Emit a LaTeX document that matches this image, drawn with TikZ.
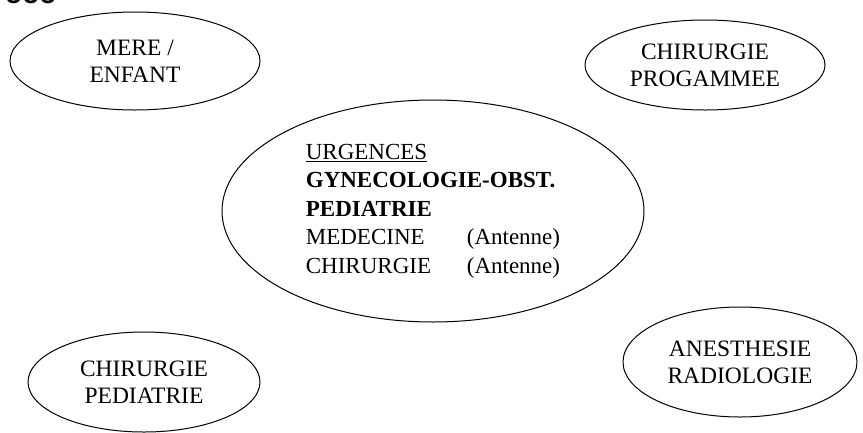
\documentclass[tikz,border=0pt]{standalone}
\usepackage{fontspec}
\setmainfont{Liberation Serif}
\setsansfont{Liberation Sans}
\usetikzlibrary{shapes.geometric, positioning}

\begin{document}
\begin{tikzpicture}[
    x=1pt, y=-1pt,
    service/.style={draw, ellipse, line width=1pt, inner sep=0pt, align=center,
                    font=\fontsize{23.5}{27}\selectfont},
    pole/.style={draw, ellipse, line width=1pt, inner sep=0pt, align=left,
                 font=\fontsize{23}{28.5}\selectfont}
]

% Page frame
\useasboundingbox (0,0) rectangle (863,432);

% Cut-off heading at the top edge
\node[font=\sffamily\bfseries\fontsize{28}{30}\selectfont, anchor=base west, inner sep=0pt]
    (crop) at (5,3) {ooo};

% Central pole
\node[pole, minimum width=422pt, minimum height=222pt] (centre) at (433,211)
    {\underline{URGENCES}\\
     \textbf{GYNECOLOGIE-OBST.}\hspace*{12pt}\\
     \textbf{PEDIATRIE}\\
     \makebox[161pt][l]{MEDECINE}(Antenne)\\
     \makebox[161pt][l]{CHIRURGIE}(Antenne)};

% Surrounding services
\node[service, minimum width=250pt, minimum height=98pt] (mere) at (135,61) {MERE /\\ENFANT};
\node[service, minimum width=240pt, minimum height=90pt] (progr) at (705,65) {CHIRURGIE\\PROGAMMEE};
\node[service, minimum width=232pt, minimum height=100pt] (pedia) at (144,382) {CHIRURGIE\\PEDIATRIE};
\node[service, minimum width=234pt, minimum height=110pt] (anest) at (740,362) {ANESTHESIE\\RADIOLOGIE};

\end{tikzpicture}
\end{document}
